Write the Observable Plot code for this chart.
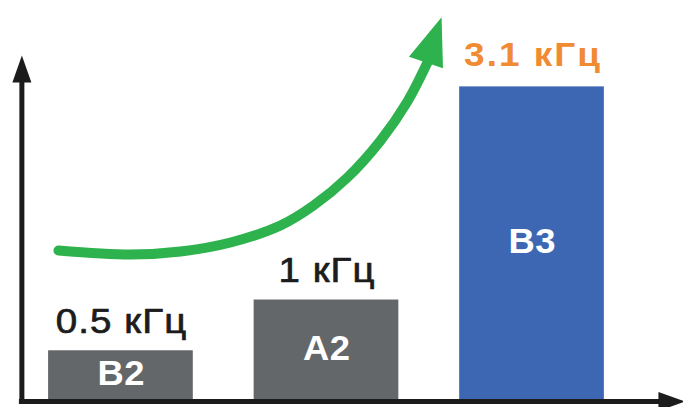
<!DOCTYPE html>
<html>
<head>
<meta charset="utf-8">
<script src="https://cdn.jsdelivr.net/npm/d3@7"></script>
<script src="https://cdn.jsdelivr.net/npm/@observablehq/plot@0.6"></script>
<style>
  html, body { margin: 0; padding: 0; background: #fff; }
  #chart svg { display: block; }
</style>
</head>
<body>
<div id="chart"></div>
<script>
// ---- data ----
const categories = ["B2", "A2", "B3"];
const values = [0.5, 1, 3.1];
const valueLabels = ["0.5 кГц", "1 кГц", "3.1 кГц"];

// growth arrow path (estimated, in chart units)
const arrowX = [-0.304, 0.046, 0.290, 0.533, 0.776, 0.937, 1.102, 1.263, 1.394, 1.496];
const arrowY = [1.488, 1.448, 1.478, 1.567, 1.734, 1.931, 2.207, 2.571, 2.956, 3.360];
const arrowHead = {x: 1.484, y: 3.340};

// ---- build tables ----
const bars = categories.map((c, i) => ({i, name: c, value: values[i], label: valueLabels[i]}));
const arrowPts = arrowX.map((x, k) => ({x, y: arrowY[k]}));

const GRAY = "#646769", BLUE = "#3d67b2", ORANGE = "#f08a33", GREEN = "#2eb24e", INK = "#1c1c1c";
const axisX = -0.482, axisXEnd = 2.625, axisYTop = 3.16;

function head(w, h, deg) {
  const t = deg * Math.PI / 180, c = Math.cos(t), s = Math.sin(t);
  const pts = [[0, -h], [-w / 2, 0], [w / 2, 0]].map(([x, y]) => [x * c - y * s, x * s + y * c]);
  return {draw(ctx) { ctx.moveTo(...pts[0]); ctx.lineTo(...pts[1]); ctx.lineTo(...pts[2]); ctx.closePath(); }};
}

const plot = Plot.plot({
  width: 683,
  height: 407,
  margin: 0,
  x: {type: "linear", domain: [-0.586, 2.737], axis: null},
  y: {type: "linear", domain: [-0.059, 3.951], axis: null},
  style: {fontFamily: "'Liberation Sans', Arial, sans-serif", background: "#fff"},
  marks: [
    Plot.rectY(bars, {x1: d => d.i - 0.352, x2: d => d.i + 0.352, y1: 0, y2: "value",
      fill: d => d.i === 2 ? BLUE : GRAY}),
    Plot.ruleX([axisX], {y1: -0.02, y2: axisYTop, stroke: INK, strokeWidth: 5}),
    Plot.ruleY([0], {x1: axisX - 0.012, x2: axisXEnd, stroke: INK, strokeWidth: 5}),
    Plot.dot([{x: axisX, y: 3.143}], {x: "x", y: "y", symbol: head(19, 27, 0), fill: INK, stroke: "none"}),
    Plot.dot([{x: 2.615, y: 0}], {x: "x", y: "y", symbol: head(19, 27, 90), fill: INK, stroke: "none"}),
    Plot.line(arrowPts, {x: "x", y: "y", curve: "catmull-rom", stroke: GREEN, strokeWidth: 10}),
    Plot.dot([arrowHead], {x: "x", y: "y", symbol: head(36, 48, 19), fill: GREEN, stroke: "none"}),
    Plot.text(bars, {filter: d => d.i < 2, x: "i", y: "value", text: "label", lineAnchor: "bottom", dy: -18,
      fontSize: 35, fill: INK, stroke: INK, strokeWidth: 0.7}),
    Plot.text(bars, {filter: d => d.i === 2, x: "i", y: "value", text: "label", lineAnchor: "bottom", dy: -21,
      fontSize: 33, fontWeight: "bold", fill: ORANGE}),
    Plot.text(bars, {x: "i", y: d => d.value / 2, text: "name", fontSize: 35, fontWeight: "bold",
      fill: "#fff", dy: -2})
  ]
});
document.getElementById("chart").appendChild(plot);

function widen(t, sx, spacing) {
  t.style.letterSpacing = spacing + "px";
  const tr = t.getAttribute("transform");
  if (tr) t.setAttribute("transform", tr + ` scale(${sx},1)`);
  else {
    const x = +t.getAttribute("x") || 0, y = +t.getAttribute("y") || 0;
    t.setAttribute("transform", `translate(${x},${y}) scale(${sx},1) translate(${-x},${-y})`);
  }
  t.setAttribute("dx", spacing / 2); // keep centred despite trailing spacing
}
plot.querySelectorAll("text").forEach(t => {
  const s = t.textContent;
  const k = valueLabels.indexOf(s);
  if (k === 2) widen(t, 1.12, 1.8);
  else if (k >= 0) widen(t, 1.1, 1);
  else if (categories.includes(s)) widen(t, 1.04, 0.5);
});
</script>
</body>
</html>
